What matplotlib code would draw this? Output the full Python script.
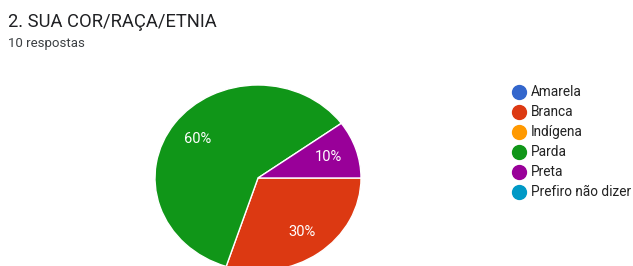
import matplotlib.pyplot as plt
from matplotlib.lines import Line2D

title = '2. SUA COR/RAÇA/ETNIA'
subtitle = '10 respostas'
categories = ['Amarela', 'Branca', 'Indígena', 'Parda', 'Preta', 'Prefiro não dizer']
counts = [0, 3, 0, 6, 1, 0]
colors = ['#3366cc', '#dc3912', '#ff9900', '#109618', '#990099', '#0099c6']

plt.rcParams['font.family'] = ['Roboto', 'DejaVu Sans']

fig = plt.figure(figsize=(6.33, 2.66), dpi=100)
W, H = 633, 266

# pie only for non-zero categories (Google skips empty slices)
vals = [c for c in counts if c > 0]
cols = [colors[i] for i, c in enumerate(counts) if c > 0]

# pie slightly stretched horizontally like the screenshot
ax = fig.add_axes([155 / W, (266 - 271) / H, 206 / W, 186 / H])
wedges, texts, autotexts = ax.pie(
    vals, colors=cols, startangle=0, counterclock=False,
    autopct=lambda p: f'{p:.0f}%', pctdistance=0.72,
    wedgeprops={'edgecolor': 'white', 'linewidth': 1},
    textprops={'color': 'white', 'fontsize': 10.5})
ax.set_aspect('auto')
ax.set_xlim(-1, 1)
ax.set_ylim(-1, 1)
ax.axis('off')

fig.text(8 / W, 1 - 22 / H, title, fontsize=13.2, color='#202124', va='center', ha='left')
fig.text(8 / W, 1 - 44 / H, subtitle, fontsize=9.5, color='#3c4043', va='center', ha='left')

# legend
for i, (cat, col) in enumerate(zip(categories, colors)):
    y = 1 - (92 + 20 * i) / H
    fig.add_artist(Line2D([519 / W], [y], marker='o', markersize=10, color=col,
                          linestyle='none', transform=fig.transFigure))
    fig.text(531 / W, y, cat, fontsize=9.8, color='#222222', va='center', ha='left')

fig.savefig('out.png', dpi=100)
